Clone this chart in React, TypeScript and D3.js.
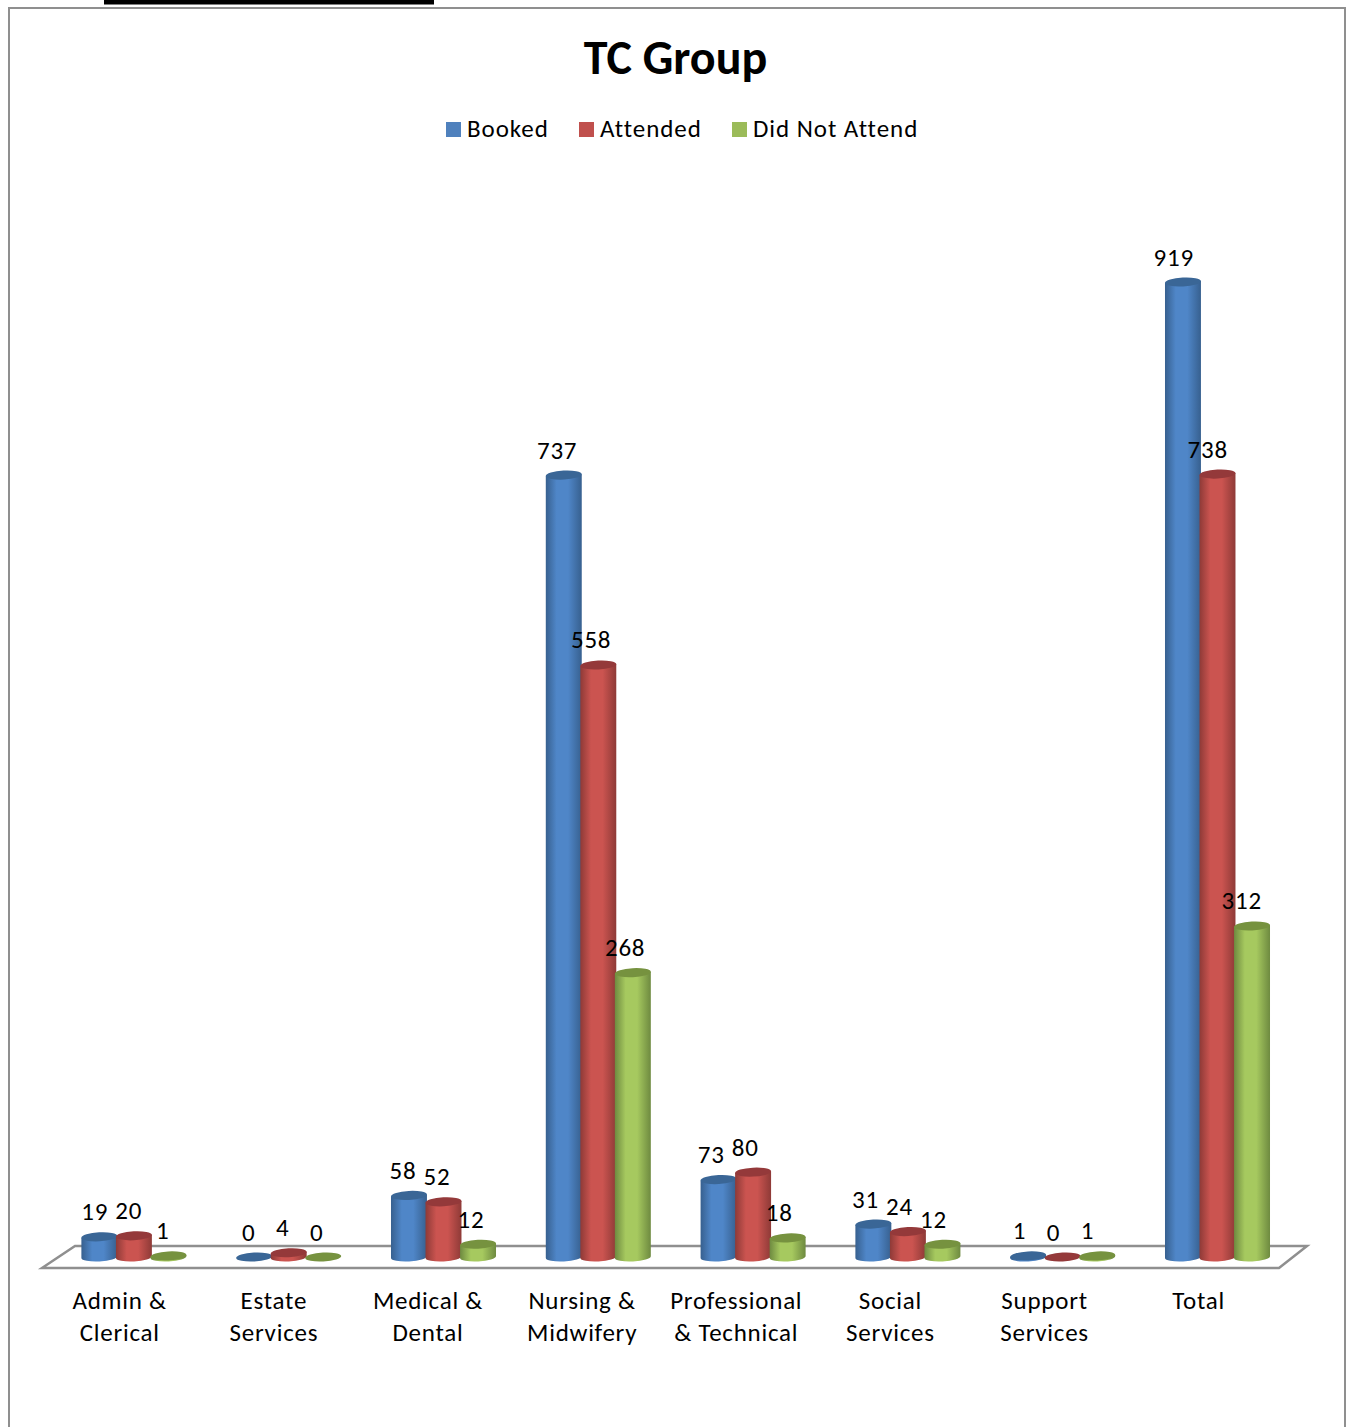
import React from "react";
import * as d3 from "d3";

const categories = [
  ["Admin &", "Clerical"],
  ["Estate", "Services"],
  ["Medical &", "Dental"],
  ["Nursing &", "Midwifery"],
  ["Professional", "& Technical"],
  ["Social", "Services"],
  ["Support", "Services"],
  ["Total"],
];
const booked = [19, 0, 58, 737, 73, 31, 1, 919];
const attended = [20, 4, 52, 558, 80, 24, 0, 738];
const didNotAttend = [1, 0, 12, 268, 18, 12, 1, 312];
const seriesNames = ["Booked", "Attended", "Did Not Attend"];
const seriesValues = [booked, attended, didNotAttend];
const solid = ["#4F81BD", "#C0504D", "#9BBB59"];
const mid = ["#4F86C8", "#CB5450", "#A6C95F"];
const edge = ["#37608F", "#8E3A37", "#6E8A40"];
const cap = ["#3A6696", "#94393A", "#76923F"];
const legendX = [446, 579, 732];

const FONT = "Carlito, Calibri, Lato, 'Open Sans', sans-serif";
const RX = 18;
const RY = 4.5;
const TILT = -3;

export default function App() {
  const ids = categories.map((_, i) => String(i));
  const x0 = d3.scaleBand<string>().domain(ids).range([56.5, 1294.9]).padding(0);
  const x1 = d3.scaleBand<string>().domain(seriesNames).range([25.6, 129.2]).padding(0);
  const y = d3.scaleLinear().domain([0, 919]).range([1257, 282]);
  const xLabel = d3.scalePoint<string>().domain(ids).range([119.7, 1198.7]);
  const xValue = d3.scalePoint<string>().domain(seriesNames).range([-25, 43]);
  const rad = (TILT * Math.PI) / 180;
  const dx = RX * Math.cos(rad);
  const dy = RX * Math.sin(rad);

  return (
    <svg
      width={1347}
      height={1427}
      viewBox="0 0 1347 1427"
      style={{ position: "absolute", left: 0, top: 0, display: "block" }}
      fontFamily={FONT}
    >
      <defs>
        {seriesNames.map((_, s) => (
          <linearGradient key={s} id={`grad${s}`} x1="0" x2="1" y1="0" y2="0">
            <stop offset="0" stopColor={edge[s]} />
            <stop offset="0.3" stopColor={mid[s]} />
            <stop offset="0.62" stopColor={mid[s]} />
            <stop offset="1" stopColor={edge[s]} />
          </linearGradient>
        ))}
      </defs>
      <rect width={1347} height={1427} fill="#fff" />
      <rect x={104} y={0} width={330} height={4.5} fill="#000" />
      <path d="M9 1427 V8 H1345 V1427" fill="none" stroke="#8f8f8f" strokeWidth={2} />
      <text x={675.5} y={74} textAnchor="middle" fontSize={48} fontWeight={700} fill="#000">
        TC Group
      </text>
      {seriesNames.map((name, s) => (
        <g key={name}>
          <rect x={legendX[s]} y={122} width={15} height={15} fill={solid[s]} />
          <text x={legendX[s] + 21} y={137} fontSize={25} letterSpacing={0.95} fill="#000">
            {name}
          </text>
        </g>
      ))}
      <path
        d="M42 1268 L75 1246 H1307 L1279 1268 Z"
        fill="#fff"
        stroke="#8f8f8f"
        strokeWidth={2.5}
      />
      {ids.map((id, i) => (
        <g key={id}>
          {seriesNames.map((name, s) => {
            const cx = (x0(id) ?? 0) + (x1(name) ?? 0) + x1.bandwidth() / 2;
            const v = seriesValues[s][i];
            const top = y(v);
            const base = y(0);
            const body = `M${cx - dx} ${top - dy} L${cx - dx} ${base - dy} A${RX} ${RY} ${TILT} 0 0 ${cx + dx} ${base + dy} L${cx + dx} ${top + dy} Z`;
            return (
              <g key={name}>
                {v > 0 && <path d={body} fill={`url(#grad${s})`} />}
                <ellipse
                  cx={cx}
                  cy={top}
                  rx={RX}
                  ry={RY}
                  fill={cap[s]}
                  transform={`rotate(${TILT} ${cx} ${top})`}
                />
              </g>
            );
          })}
        </g>
      ))}
      {ids.map((id, i) =>
        seriesNames.map((name, s) => {
          const v = seriesValues[s][i];
          return (
            <text
              key={name}
              x={(xLabel(id) ?? 0) + (xValue(name) ?? 0)}
              y={y(v) - 16.5}
              textAnchor="middle"
              fontSize={25}
              letterSpacing={0.8}
              fill="#000"
            >
              {v}
            </text>
          );
        })
      )}
      {categories.map((lines, i) =>
        lines.map((line, j) => (
          <text
            key={line}
            x={xLabel(String(i))}
            y={1309 + j * 32}
            textAnchor="middle"
            fontSize={25}
            letterSpacing={0.75}
            fill="#000"
          >
            {line}
          </text>
        ))
      )}
    </svg>
  );
}
